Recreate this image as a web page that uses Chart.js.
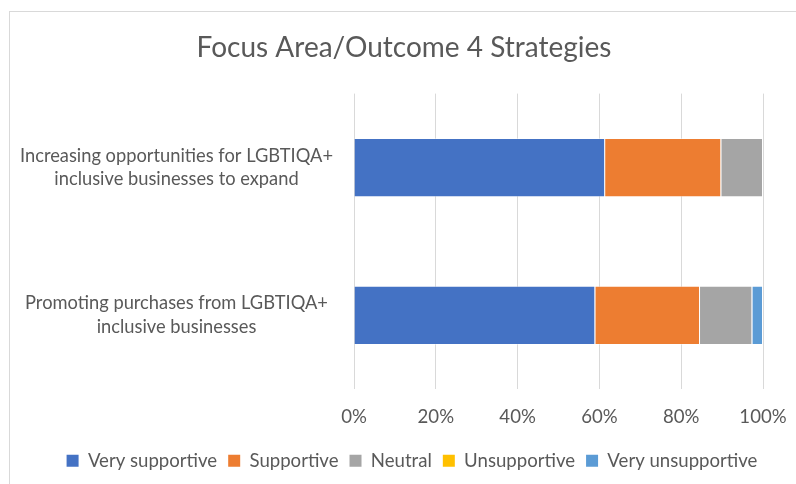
<!DOCTYPE html>
<html>
<head>
<meta charset="utf-8">
<script src="https://cdn.jsdelivr.net/npm/chart.js@4/dist/chart.umd.min.js"></script>
<style>
  html, body { margin: 0; padding: 0; background: #fff; overflow: hidden; }
  #wrap { position: relative; width: 796px; height: 484px; }
  #frame { position: absolute; left: 9px; top: 11px; width: 900px; height: 600px; border: 1px solid #d9d9d9; pointer-events: none; }
  canvas { position: absolute; left: 0; top: 0; }
</style>
</head>
<body>
<div id="wrap">
  <canvas id="c" width="796" height="484"></canvas>
  <div id="frame"></div>
</div>
<script>
const categories = [
  ["Increasing opportunities for LGBTIQA+", "inclusive businesses to expand"],
  ["Promoting purchases from LGBTIQA+", "inclusive businesses"]
];
const seriesNames = ["Very supportive", "Supportive", "Neutral", "Unsupportive", "Very unsupportive"];
const verySupportive = [61.4, 59.0];
const supportive = [28.4, 25.6];
const neutral = [10.2, 12.8];
const unsupportive = [0, 0];
const veryUnsupportive = [0, 2.6];
const xTicks = [0, 20, 40, 60, 80, 100];
const colors = ["#4472C4", "#ED7D31", "#A5A5A5", "#FFC000", "#5B9BD5"];
const seriesValues = [verySupportive, supportive, neutral, unsupportive, veryUnsupportive];

const FONT = "Lato";
const TXT = "#595959";

const layoutTweak = {
  id: "layoutTweak",
  afterLayout(chart) {
    // let the wide category labels spill left of the axis box without clipping
    chart.scales.y.left = 0;
    // nudge legend slightly right, as in the original
    chart.legend.left += 8;
    chart.legend.right += 8;
  }
};

new Chart(document.getElementById("c"), {
  type: "bar",
  data: {
    labels: categories,
    datasets: seriesNames.map((n, i) => ({
      label: n,
      data: seriesValues[i],
      backgroundColor: colors[i],
      borderColor: "rgba(255,255,255,0.4)",
      borderWidth: 1,
      barPercentage: 0.5,
      categoryPercentage: 0.8
    }))
  },
  plugins: [layoutTweak],
  options: {
    indexAxis: "y",
    responsive: false,
    animation: false,
    layout: { padding: { left: 45, right: 33, top: 0, bottom: 4 } },
    plugins: {
      tooltip: { enabled: false },
      title: {
        display: true,
        text: "Focus Area/Outcome 4 Strategies",
        color: TXT,
        font: { family: FONT, size: 28, weight: "normal" },
        padding: { top: 31, bottom: 29 }
      },
      legend: {
        position: "bottom",
        labels: {
          color: TXT,
          font: { family: FONT, size: 18.6 },
          boxWidth: 12,
          boxHeight: 12,
          padding: 11,
          generateLabels: (chart) => Chart.defaults.plugins.legend.labels.generateLabels(chart).map(l => Object.assign(l, { lineWidth: 0 }))
        }
      }
    },
    scales: {
      x: {
        stacked: true,
        min: 0,
        max: 100,
        afterBuildTicks: (s) => { s.ticks = xTicks.map(v => ({ value: v })); },
        afterFit: (s) => { s.height = 51; s.paddingRight = 0; s.paddingLeft = 0; },
        grid: { color: "#d9d9d9", lineWidth: 1, drawTicks: false },
        border: { display: false },
        ticks: {
          color: TXT,
          font: { family: FONT, size: 18.6 },
          padding: 16,
          callback: (v) => v + "%"
        }
      },
      y: {
        stacked: true,
        afterFit: (s) => { s.width = 309; },
        grid: { display: false, drawTicks: false },
        border: { display: false },
        ticks: {
          color: TXT,
          font: { family: FONT, size: 18.3, lineHeight: 1.3 },
          crossAlign: "center",
          padding: 21
        }
      }
    }
  }
});
</script>
</body>
</html>
